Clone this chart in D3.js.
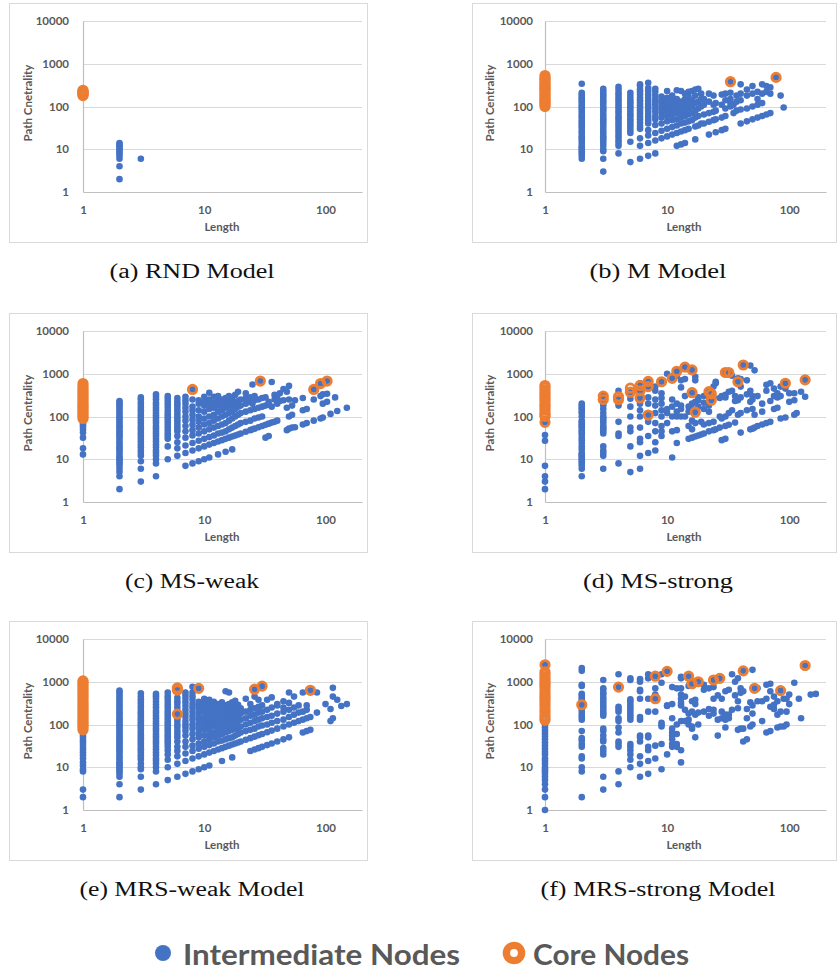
<!DOCTYPE html>
<html><head><meta charset="utf-8">
<script src="https://cdn.jsdelivr.net/npm/d3@7"></script>
<style>body{margin:0;background:#fff}svg{display:block}</style>
</head><body>
<svg id="c" width="838" height="974"></svg>
<script>
// ---------- DATA (length -> list of path-centrality values) ----------
const xTicks = [1, 10, 100];
const yTicks = [1, 10, 100, 1000, 10000];
const captions = ["(a) RND Model", "(b) M Model", "(c) MS-weak", "(d) MS-strong", "(e) MRS-weak Model", "(f) MRS-strong Model"];
const yTitles = ["Path Cnetrality", "Path Centrality", "Path Centrality", "Path Centrality", "Path Centrality", "Path Centrality"];
const legendLabels = ["Intermediate Nodes", "Core Nodes"];

const aInter = [[2,[2,4,6,7,8,9,10,11,12,13,14]],[3,[6]]];
const aCore = [[1,[180,190,200,210,220,230,240]]];

const bInter = [
[2,[6,7,8,9,10,11,12,14,16,18,20,23,26,30,34,38,43,48,55,62,70,80,90,100,110,125,140,155,170,190,210,340]],
[3,[3,6,9,10,12,14,16,18,20,23,26,30,35,40,45,50,57,65,75,85,95,110,125,140,160,180,200,230,260]],
[4,[8,12,14,16,19,22,26,30,35,40,46,53,60,70,80,92,105,120,140,160,185,210,250,290]],
[5,[5,15,24,28,33,38,44,50,58,66,76,88,100,115,130,150,175,210]],
[6,[6,12,18,30,35,42,50,58,68,80,92,105,120,140,160,190,220,250,300,330]],
[7,[7,14,21,28,40,47,55,64,75,87,100,115,135,160,190,230,270,360]],
[8,[8,16,24,37,50,60,75,90,110,130,150,180,220,260]],
[9,[18,27,40,55,70,85,100,120,140,170]],
[10,[20,30,45,60,75,90,105,130,160,230]],
[11,[22,33,48,65,85,110,140,180]],
[12,[12,24,36,50,70,95,120,150,240]],
[13,[13,26,40,55,75,100,130,230]],
[14,[14,28,42,60,80,110,150,200]],
[15,[30,45,65,90,120,170,220]],
[16,[48,70,100,140,230]],
[17,[17,34,55,80,120,180,250]],
[18,[36,60,90,130,260]],
[19,[40,100,150,200]],
[20,[40,65,110,150]],
[22,[22,44,70,130,200]],
[24,[48,75,110,180]],
[25,[25,50,80,120]],
[28,[28,55,110,190]],
[30,[30,60,90,140,200]],
[33,[100,120,150,210,380]],
[35,[70,110]],
[37,[80,130,180]],
[40,[40,85,140,200,330]],
[45,[45,90,180,250]],
[50,[50,100,200,300]],
[55,[55,110,150,220]],
[60,[60,120,200,330]],
[65,[65,220,300]],
[70,[70,200,280]],
[78,[480]],
[85,[180]],
[90,[95]]
];
const bCore = [[1,[100,110,120,130,140,150,165,180,200,220,240,260,280,300,330,360,400,440,480,530]],[33,[380]],[78,[480]]];

const cInter = [
[1,[13,18,32,42,50,58,65,72]],
[2,[2,4,5,6,7,8,9,10,11,12,14,16,18,20,23,26,30,34,38,43,48,55,62,70,80,90,100,115,130,150,170,190,210,230]],
[3,[3,6,9,12,14,16,19,22,26,30,35,40,46,53,60,70,80,92,105,120,140,160,185,210,250,280]],
[4,[4,8,10,12,14,16,19,22,26,30,35,40,46,53,60,70,80,92,105,120,140,160,185,210,250,290,330]],
[5,[10,20,30,35,40,47,55,64,75,87,100,115,135,160,190,220,260,300]],
[6,[12,18,25,35,45,52,60,70,82,95,110,130,150,175,200,230,270]],
[7,[7,14,21,32,45,60,80,100,130,160,200,240,290]],
[8,[8,16,24,36,48,64,85,110,140,170,250,430]],
[9,[9,18,27,40,55,75,100,140,200,240]],
[10,[10,20,30,45,65,90,130,180,220,290]],
[11,[11,22,33,50,70,100,150,200,250,360]],
[12,[24,36,55,80,110,160,210,290]],
[13,[13,26,40,60,90,130,180,230,300]],
[14,[28,42,65,100,140,190,250]],
[15,[15,30,45,70,110,160,200,270]],
[16,[32,50,80,120,170,230,300]],
[17,[17,34,55,90,130,190,260]],
[18,[36,60,100,150,210,320]],
[19,[38,65,110,170,230,380]],
[20,[40,70,120,180,250]],
[22,[44,75,130,200,270,350]],
[24,[48,80,140,220,280]],
[25,[50,200,560]],
[26,[52,90,150,240,300]],
[28,[56,95,160,250]],
[29,[675]],
[30,[60,100,170,270]],
[32,[32,64,180,280]],
[34,[35,68,190,220]],
[36,[72,170,640]],
[38,[75,250,320]],
[40,[80,200,300]],
[42,[230,350]],
[45,[240,440]],
[48,[48,160,380]],
[50,[52,100,250,520]],
[53,[55,110,180]],
[56,[56,240]],
[65,[65,140,270]],
[70,[70,150]],
[80,[80,250,430]],
[91,[90,300,590]],
[95,[95,200,330]],
[103,[220,340,675]],
[110,[115]],
[120,[280]],
[125,[135]],
[150,[160]]
];
const cCore = [[1,[90,100,110,120,135,150,165,180,200,220,245,270,300,330,370,410,460,520,590]],[8,[430]],[29,[675]],[80,[430]],[91,[590]],[103,[675]]];

const dInter = [
[1,[2,3,4,7,27,37,73]],
[2,[4,6,7,8,9,10,11,12,13,14,17,20,24,28,32,38,43,48,55,60,66,73,80,100,120,130,150,160,180,200]],
[3,[6,12,14,16,20,40,45,50,55,60,70,80,90,100,120,150,180,200,250,300]],
[4,[8,35,40,75,180,210,250,400]],
[5,[5,20,45,55,100,170,260,370]],
[6,[6,12,25,30,55,100,140,200,270,400,600]],
[7,[14,35,75,108,200,280,450,660]],
[8,[16,25,45,70,120,180,250,400,500]],
[9,[35,45,60,100,140,200,270,350,650]],
[10,[70,120,150,1000]],
[11,[11,45,100,170,250,780]],
[12,[24,48,100,130,200,900,1140]],
[13,[100,150,180,480,700]],
[14,[100,300,750,1430]],
[15,[30,60,130,170]],
[16,[32,50,80,150,200,360,400,1230]],
[17,[34,70,126,220,700,850]],
[18,[36,170,240,280]],
[19,[38,75]],
[20,[40,65,150,210,300]],
[22,[45,70,130,180,380]],
[23,[240,340]],
[24,[48,75,280,500]],
[25,[50,600,650]],
[27,[55,100,270]],
[28,[28,90,300]],
[30,[30,60,100,280,320,1070]],
[32,[64,120,380,1070]],
[34,[140,400,900]],
[36,[72,230,300]],
[38,[110,240,650,780]],
[40,[42,120,280,500,750]],
[42,[1600]],
[45,[140,330,700]],
[48,[50,220,400,1550]],
[50,[52,150,250,300]],
[52,[55,110,1200]],
[55,[60,300]],
[60,[65,130,200]],
[65,[70,400,550]],
[70,[75,230,600]],
[75,[150,300,450]],
[80,[160,280,350]],
[85,[90,300,500]],
[93,[95,450,600]],
[100,[220,350]],
[110,[110,240,350]],
[115,[120]],
[125,[380]],
[135,[290,720]]
];
const dCore = [[1,[73,100,110,120,140,160,180,200,230,260,290,330,370,420,480,530]],[3,[250,300]],[4,[250,290]],[5,[370,460]],[6,[270,400,530]],[7,[108,500,660]],[9,[650]],[11,[780]],[12,[1140]],[14,[1430]],[16,[360,1230]],[17,[126]],[22,[380]],[23,[240,340]],[30,[1070]],[32,[1070]],[38,[650]],[42,[1600]],[93,[600]],[135,[720]]];

const eInter = [
[1,[2,3,8,9,11,13,16,19,22,26,30,35,40,46,53,60,68]],
[2,[2,4,6,7,8,9,10,11,12,13,15,17,19,22,25,28,32,36,40,45,50,56,63,70,80,90,100,110,125,140,160,180,200,230,260,290,330,380,430,490,560,620]],
[3,[3,6,9,10,12,15,17,19,22,25,28,32,36,40,45,50,56,63,70,80,90,100,110,125,140,160,180,200,230,260,300,340,390,450,540]],
[4,[4,8,10,12,14,16,19,22,26,30,35,40,46,53,60,70,80,92,105,120,140,160,185,210,250,290,340,400,460,520]],
[5,[5,10,15,20,25,30,35,40,46,53,60,70,80,92,105,120,140,160,185,210,250,290,340,400,460,560]],
[6,[6,12,18,24,30,40,50,60,70,85,100,120,140,175,200,250,300,350,420,680]],
[7,[7,14,21,30,40,55,70,85,100,120,150,180,220,270,330,400,480,560]],
[8,[8,16,24,32,45,60,80,100,130,160,200,250,300,380,460,560,760]],
[9,[9,18,27,36,50,65,85,110,140,180,230,280,340,700]],
[10,[10,20,30,40,55,75,95,120,150,200,260,330,400]],
[11,[11,22,33,45,60,80,105,135,170,220,290,380]],
[12,[24,36,50,65,90,115,150,200,260,340]],
[13,[26,40,55,75,100,130,170,230,300]],
[14,[14,28,42,60,80,110,140,190,250,330]],
[15,[30,45,65,90,120,160,210,280,600]],
[16,[32,48,70,95,130,170,230,300,560]],
[17,[17,34,50,75,100,140,190,250,330]],
[18,[36,55,80,110,150,200,270,360]],
[19,[38,60,85,120,160,220,290]],
[20,[40,65,90,130,180,240]],
[22,[44,70,100,140,200,400]],
[24,[24,48,75,110,160,220,300]],
[26,[26,52,80,120,170,240,450,670]],
[28,[28,56,90,130,190,260,380]],
[30,[30,60,95,140,200,280,790]],
[33,[33,66,100,150,220,380]],
[36,[36,72,110,160,250,430]],
[40,[40,80,120,180,280,300]],
[45,[45,90,130,200,250,350]],
[50,[50,100,150,220,320,560]],
[55,[110,170,250,450]],
[60,[120,190,280]],
[65,[65,130,200,560]],
[70,[70,140,220,280]],
[75,[75,150,630]],
[85,[190,560]],
[100,[300]],
[110,[120,230]],
[115,[140,450,720]],
[125,[380]],
[135,[270]],
[150,[300]]
];
const eCore = [[1,[75,85,95,105,115,130,145,160,180,200,225,250,280,310,350,400,450,500,560,630,700,780,870,960,1050]],[6,[175,640,720]],[9,[700]],[26,[670]],[30,[790]],[75,[630]]];

const fInter = [
[1,[1,2,3,4,5,6,7,8,9,10,12,14,16,20,23,27,32,38,45,53,62,72,85,100,115,2500]],
[2,[2,8,10,16,18,30,35,42,48,70,130,150,170,200,230,290,320,380,420,480,520,800,850,1800,2100]],
[3,[3,6,20,24,28,40,45,55,70,80,160,180,200,230,260,290,330,380,420,500,550,650,700,1100]],
[4,[4,8,30,35,40,65,85,120,140,200,230,260,750,1500]],
[5,[10,15,20,25,30,35,130,150,170,200,230,260,300,350,390,1100,1200]],
[6,[6,12,18,40,50,55,130,150,400,600,650,1000,1150]],
[7,[7,14,25,30,50,55,200,400,1200,1500]],
[8,[16,32,200,400,500,700,1350]],
[9,[9,35,90,100,110,950,1500]],
[10,[20,270,280,1750]],
[11,[30,35,45,55,65,80,140,300,750]],
[12,[30,35,60,100,700]],
[13,[13,25,120,280,320,400,500,700,1200,1300]],
[14,[120,220,450]],
[15,[100,130,180,800,1350]],
[16,[80,90,200,350,900]],
[17,[50,170,300,380]],
[18,[100,190,1000]],
[20,[200,650,850]],
[22,[160,230,700]],
[24,[180,220,400,750,1100]],
[26,[55,130,480]],
[27,[1200]],
[28,[140,200,400]],
[30,[85,130,170,600]],
[32,[140,170,650]],
[34,[220,1500]],
[36,[480,1000]],
[38,[75,240,350,1200]],
[40,[80,550,700]],
[42,[40,80,600,1800]],
[45,[45,140,230]],
[48,[90,330]],
[50,[100,180,280,1900]],
[52,[700]],
[55,[350,700]],
[60,[120,350]],
[65,[65,400,850]],
[70,[70,260,600,900]],
[75,[230,290,450]],
[80,[85,170,350]],
[85,[90,200,620]],
[90,[90,400]],
[95,[100,200,400]],
[100,[300,500]],
[110,[950]],
[120,[400]],
[125,[140]],
[135,[2400]],
[150,[500]],
[165,[520]]
];
const fCore = [[1,[125,140,160,190,220,260,300,350,400,450,520,600,700,800,900,1000,1150,1300,1500,1700,2500]],[2,[290]],[4,[750]],[8,[400,1350]],[10,[1750]],[15,[1350]],[16,[900]],[18,[1000]],[24,[1100]],[27,[1200]],[42,[1800]],[52,[700]],[85,[620]],[135,[2400]]];

// ---------- LAYOUT ----------
const BLUE = "#4472C4", ORANGE = "#ED7D31", GREY = "#595959";
const cols = [
  {frame:[9.5,367.5], plot:[83,362], lab:14, ytitle:27, xtitle:222, cap:192},
  {frame:[472.5,836.5], plot:[545,826], lab:12, ytitle:489, xtitle:684, cap:658}
];
const rows = [0, 310, 618];
const capW = [165, 137, 134, 150, 225, 235];
const panels = [
  {inter:aInter, core:aCore}, {inter:bInter, core:bCore},
  {inter:cInter, core:cCore}, {inter:dInter, core:dCore},
  {inter:eInter, core:eCore}, {inter:fInter, core:fCore}
];
const flat = cols2 => cols2.flatMap(([len, vals]) => vals.map(v => ({x:len, y:v})));

const svg = d3.select("#c");
const FONT = "Lato, 'Open Sans', sans-serif";

panels.forEach((p, i) => {
  const c = cols[i % 2], off = rows[Math.floor(i / 2)];
  const g = svg.append("g");
  g.append("rect").attr("x", c.frame[0]).attr("y", 3.5 + off)
    .attr("width", c.frame[1] - c.frame[0]).attr("height", 239)
    .attr("fill", "#fff").attr("stroke", "#d9d9d9");

  const x = d3.scaleLog().domain([1, 200]).range(c.plot);
  const y = d3.scaleLog().domain([1, 10000]).range([192 + off, 21 + off]);

  // gridlines
  g.append("g").selectAll("line").data(yTicks.slice(1)).join("line")
    .attr("x1", c.plot[0]).attr("x2", c.plot[1])
    .attr("y1", d => Math.round(y(d)) + 0.5).attr("y2", d => Math.round(y(d)) + 0.5)
    .attr("stroke", "#d9d9d9").attr("stroke-width", 1);

  // axes
  const ya = g.append("g").attr("transform", `translate(${c.plot[0]},0)`)
    .call(d3.axisLeft(y).tickValues(yTicks).tickFormat(d3.format("d")).tickSize(0).tickPadding(c.lab));
  const xa = g.append("g").attr("transform", `translate(0,${192 + off})`)
    .call(d3.axisBottom(x).tickValues(xTicks).tickFormat(d3.format("d")).tickSize(0).tickPadding(14));
  [ya, xa].forEach(a => {
    a.select(".domain").attr("stroke", "#bfbfbf").attr("stroke-width", 1.2);
    a.selectAll("text").attr("fill", GREY).attr("font-family", FONT)
      .attr("font-size", 11.5).attr("font-weight", 700);
  });

  // axis titles
  g.append("text").attr("x", c.xtitle).attr("y", 231 + off).attr("text-anchor", "middle")
    .attr("fill", GREY).attr("font-family", FONT).attr("font-size", 11.5).attr("font-weight", 700)
    .text("Length");
  g.append("text").attr("transform", `translate(${c.ytitle},${103 + off}) rotate(-90)`)
    .attr("text-anchor", "middle").attr("dominant-baseline", "central")
    .attr("fill", GREY).attr("font-family", FONT).attr("font-size", 11.5).attr("font-weight", 700)
    .text(yTitles[i]);

  // points
  g.append("g").selectAll("circle").data(flat(p.inter)).join("circle")
    .attr("cx", d => x(d.x)).attr("cy", d => y(d.y)).attr("r", 3.3).attr("fill", BLUE);
  g.append("g").selectAll("circle").data(flat(p.core)).join("circle")
    .attr("cx", d => x(d.x)).attr("cy", d => y(d.y)).attr("r", 4.2)
    .attr("fill", "none").attr("stroke", ORANGE).attr("stroke-width", 2.8);

  // caption
  svg.append("text").attr("x", c.cap).attr("y", 278 + off).attr("text-anchor", "middle")
    .attr("font-family", "'Liberation Serif', 'DejaVu Serif', serif").attr("font-size", 20)
    .attr("fill", "#111").attr("textLength", capW[i]).attr("lengthAdjust", "spacingAndGlyphs")
    .text(captions[i]);
});

// legend
const lg = svg.append("g");
lg.append("circle").attr("cx", 163).attr("cy", 953).attr("r", 8).attr("fill", BLUE);
lg.append("text").attr("x", 183).attr("y", 965).attr("fill", GREY).attr("font-family", FONT)
  .attr("font-size", 29).attr("font-weight", 700).attr("textLength", 277).attr("lengthAdjust", "spacingAndGlyphs")
  .text(legendLabels[0]);
lg.append("circle").attr("cx", 514).attr("cy", 953).attr("r", 7.6).attr("fill", "none")
  .attr("stroke", ORANGE).attr("stroke-width", 7.4);
lg.append("text").attr("x", 533).attr("y", 965).attr("fill", GREY).attr("font-family", FONT)
  .attr("font-size", 29).attr("font-weight", 700).attr("textLength", 156).attr("lengthAdjust", "spacingAndGlyphs")
  .text(legendLabels[1]);
</script>
</body></html>
